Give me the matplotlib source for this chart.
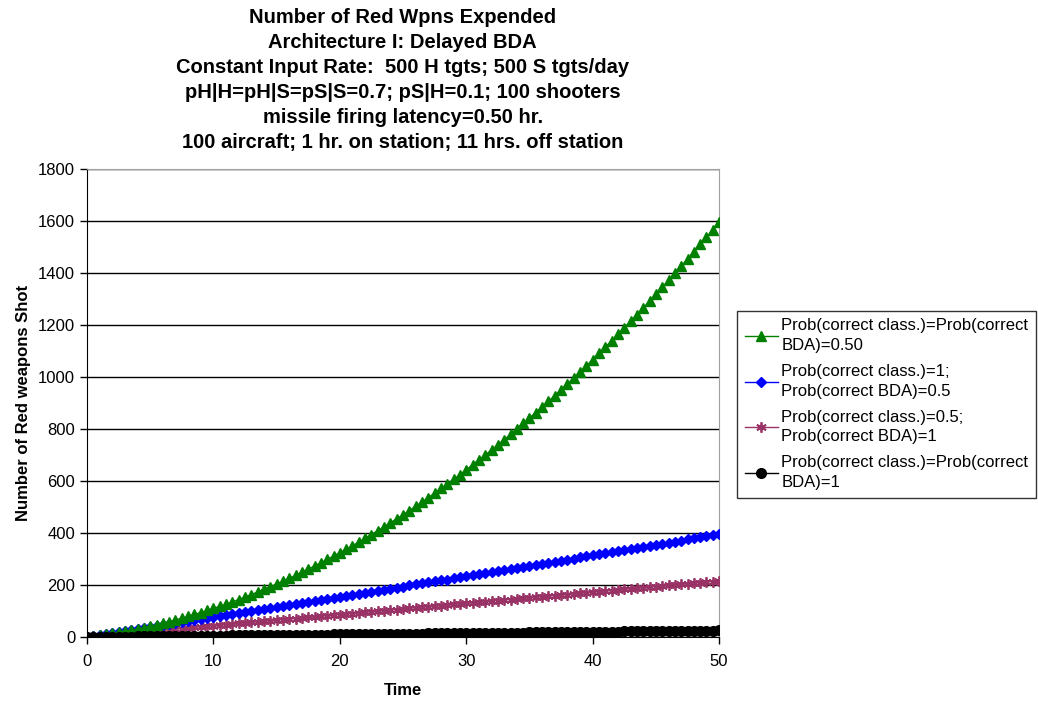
import matplotlib.pyplot as plt
import numpy as np

plt.rcParams['font.family'] = ['Liberation Sans', 'DejaVu Sans']

# time in steps of half a unit, 0 .. 50
time = np.arange(101) * 0.5

shots_half_half = [
    0, 3, 6, 10, 14, 18, 22, 26, 31, 36,
    42, 47, 53, 59, 66, 72, 79, 87, 94, 102,
    110, 118, 126, 135, 144, 153, 163, 173, 183, 193,
    204, 215, 226, 237, 249, 261, 273, 285, 298, 311,
    324, 337, 351, 365, 379, 394, 409, 424, 439, 455,
    470, 486, 503, 519, 536, 553, 571, 588, 606, 624,
    643, 662, 681, 700, 719, 739, 759, 779, 800, 821,
    842, 863, 884, 906, 928, 951, 973, 996, 1019, 1043,
    1066, 1090, 1115, 1139, 1164, 1189, 1214, 1239, 1265, 1291,
    1317, 1344, 1371, 1398, 1425, 1453, 1481, 1509, 1537, 1566,
    1595,
]
shots_class1_bda05 = [
    0, 4, 8, 11, 15, 19, 23, 27, 31, 34,
    38, 42, 46, 50, 53, 57, 61, 65, 69, 73,
    77, 80, 84, 88, 92, 96, 100, 104, 108, 111,
    115, 119, 123, 127, 131, 135, 139, 143, 147, 150,
    154, 158, 162, 166, 170, 174, 178, 182, 186, 190,
    194, 198, 202, 206, 210, 214, 218, 221, 225, 229,
    233, 237, 241, 245, 249, 253, 257, 261, 265, 269,
    273, 277, 281, 285, 289, 293, 297, 301, 306, 310,
    314, 318, 322, 326, 330, 334, 338, 342, 346, 350,
    354, 358, 362, 366, 370, 375, 379, 383, 387, 391,
    395,
]
shots_class05_bda1 = [
    0, 2, 4, 6, 9, 11, 13, 15, 17, 19,
    22, 24, 26, 28, 30, 32, 34, 37, 39, 41,
    43, 45, 47, 49, 52, 54, 56, 58, 60, 62,
    65, 67, 69, 71, 73, 75, 77, 80, 82, 84,
    86, 88, 90, 92, 95, 97, 99, 101, 103, 105,
    108, 110, 112, 114, 116, 118, 120, 123, 125, 127,
    129, 131, 133, 135, 138, 140, 142, 144, 146, 148,
    151, 153, 155, 157, 159, 161, 163, 166, 168, 170,
    172, 174, 176, 178, 181, 183, 185, 187, 189, 191,
    194, 196, 198, 200, 202, 204, 206, 209, 211, 213,
    215,
]
shots_class1_bda1 = [
    0.0, 0.2, 0.5, 0.8, 1.0, 1.2, 1.5, 1.8, 2.0, 2.2,
    2.5, 2.8, 3.0, 3.2, 3.5, 3.8, 4.0, 4.2, 4.5, 4.8,
    5.0, 5.2, 5.5, 5.8, 6.0, 6.2, 6.5, 6.8, 7.0, 7.2,
    7.5, 7.8, 8.0, 8.2, 8.5, 8.8, 9.0, 9.2, 9.5, 9.8,
    10.0, 10.2, 10.5, 10.8, 11.0, 11.2, 11.5, 11.8, 12.0, 12.2,
    12.5, 12.8, 13.0, 13.2, 13.5, 13.8, 14.0, 14.2, 14.5, 14.8,
    15.0, 15.2, 15.5, 15.8, 16.0, 16.2, 16.5, 16.8, 17.0, 17.2,
    17.5, 17.8, 18.0, 18.2, 18.5, 18.8, 19.0, 19.2, 19.5, 19.8,
    20.0, 20.2, 20.5, 20.8, 21.0, 21.2, 21.5, 21.8, 22.0, 22.2,
    22.5, 22.8, 23.0, 23.2, 23.5, 23.8, 24.0, 24.2, 24.5, 24.8,
    25.0,
]

labels = [
    "Prob(correct class.)=Prob(correct\nBDA)=0.50",
    "Prob(correct class.)=1;\nProb(correct BDA)=0.5",
    "Prob(correct class.)=0.5;\nProb(correct BDA)=1",
    "Prob(correct class.)=Prob(correct\nBDA)=1",
]

title_lines = [
    "Number of Red Wpns Expended",
    "Architecture I: Delayed BDA",
    "Constant Input Rate:  500 H tgts; 500 S tgts/day",
    "pH|H=pH|S=pS|S=0.7; pS|H=0.1; 100 shooters",
    "missile firing latency=0.50 hr.",
    "100 aircraft; 1 hr. on station; 11 hrs. off station",
]

fig = plt.figure(figsize=(10.38, 7.02), dpi=100)
ax = fig.add_axes([0.0838, 0.0926, 0.609, 0.667])

ax.plot(time, shots_half_half, color="#008000", lw=1, marker="^", ms=7.5,
        label=labels[0], zorder=5)
ax.plot(time, shots_class1_bda05, color="#0000FF", lw=1, marker="D", ms=5.5,
        label=labels[1], zorder=4)
ax.plot(time, shots_class05_bda1, color="#993366", lw=1, marker=(6, 2, 0), ms=7.5,
        mew=1.3, label=labels[2], zorder=3)
ax.plot(time, shots_class1_bda1, color="black", lw=1, marker="o", ms=7,
        label=labels[3], zorder=6)

ax.set_xlim(0, 50)
ax.set_ylim(0, 1800)
ax.set_xticks(np.arange(0, 51, 10))
ax.set_yticks(np.arange(0, 1801, 200))
ax.yaxis.grid(True, color="black", lw=1)
ax.set_axisbelow(True)
ax.tick_params(labelsize=12, direction="out", length=5, width=1)
ax.tick_params(axis="x", pad=7.5)
for side in ("top", "right"):
    ax.spines[side].set_color("#A0A0A0")
for side in ("left", "bottom"):
    ax.spines[side].set_color("black")

ax.set_xlabel("Time", fontsize=12, fontweight="bold", labelpad=10)
ax.set_ylabel("Number of Red weapons Shot", fontsize=12, fontweight="bold",
              labelpad=5)

# title block, one line at a time for even spacing
for i, line in enumerate(title_lines):
    fig.text(0.388, 1 - (17.5 + 25 * i) / 702, line, ha="center", va="center",
             fontsize=14.5, fontweight="bold")

leg = ax.legend(loc="upper left", bbox_to_anchor=(1.0285, 0.6966), fontsize=12,
                frameon=True, fancybox=False, edgecolor="black",
                borderpad=0.45, labelspacing=0.65, handlelength=2.0,
                handletextpad=0.2, borderaxespad=0)
leg.get_frame().set_linewidth(1)
for t in leg.get_texts():
    t.set_linespacing(1.4)

fig.savefig("out.png", dpi=100)
